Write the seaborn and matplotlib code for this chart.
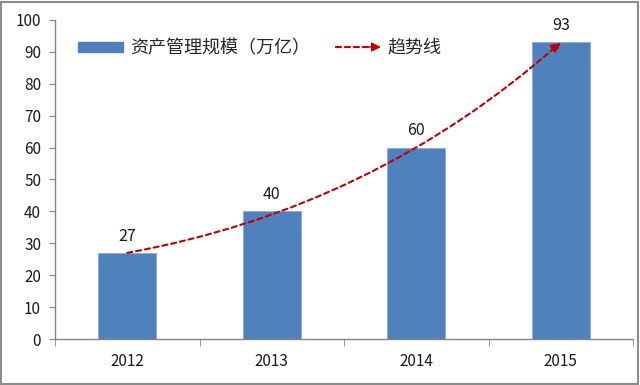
import matplotlib
matplotlib.use("Agg")
import matplotlib.pyplot as plt
import seaborn as sns
import pandas as pd
from matplotlib.patches import Patch, FancyArrowPatch, Rectangle
from matplotlib.legend_handler import HandlerBase
from matplotlib.lines import Line2D

years = ["2012", "2013", "2014", "2015"]
values = [27, 40, 60, 93]
bar_label = "资产管理规模（万亿）"
trend_label = "趋势线"
yticks = list(range(0, 101, 10))

BLUE = "#4F81BD"
RED = "#C00000"
GRAY = "#868686"

sns.set_style("white")
plt.rcParams["font.family"] = ["Noto Sans CJK SC", "DejaVu Sans"]

fig = plt.figure(figsize=(6.4, 3.85), dpi=100)
ax = fig.add_axes([55/640, 1-339/385, (633-55)/640, (339-20)/385])

df = pd.DataFrame({"year": years, "value": values})
sns.barplot(data=df, x="year", y="value", color=BLUE, width=0.4, ax=ax,
            edgecolor="#8EAADB", linewidth=0.6, saturation=1)

ax.set_xlim(-0.5, len(years) - 0.5)
ax.set_ylim(0, 100)
ax.set_yticks(yticks)
ax.set_xlabel("")
ax.set_ylabel("")

for s in ["top", "right"]:
    ax.spines[s].set_visible(False)
for s in ["left", "bottom"]:
    ax.spines[s].set_color(GRAY)
    ax.spines[s].set_linewidth(1.0)

ax.tick_params(axis="y", which="major", length=4, color=GRAY, direction="out",
               labelsize=11, pad=6, labelcolor="#1a1a1a", left=True)
ax.tick_params(axis="x", which="major", length=0, labelsize=11, pad=10,
               labelcolor="#1a1a1a")
ax.set_xticks([i - 0.5 for i in range(len(years) + 1)], minor=True)
ax.tick_params(axis="x", which="minor", length=5, color=GRAY, direction="out",
               bottom=True)

for i, v in enumerate(values):
    ax.annotate(str(v), (i, v), xytext=(0, 12), textcoords="offset points",
                ha="center", va="center", fontsize=11.5, color="#1a1a1a")

# trend arrow from first to last bar top
arrow = FancyArrowPatch((0, values[0]), (len(values) - 1, values[-1]),
                        connectionstyle="arc3,rad=0.14", arrowstyle="-|>",
                        mutation_scale=14, color=RED, linewidth=1.5,
                        linestyle=(0, (2.5, 1.8)), shrinkA=0, shrinkB=0, zorder=5)
ax.add_patch(arrow)


class ArrowHandler(HandlerBase):
    def create_artists(self, legend, orig_handle, xdescent, ydescent,
                       width, height, fontsize, trans):
        y = height / 2 - ydescent
        line = FancyArrowPatch((-xdescent, y), (width - xdescent - 8, y),
                               arrowstyle="-", color=RED, linewidth=1.5,
                               linestyle=(0, (2.5, 1.8)), transform=trans,
                               shrinkA=0, shrinkB=0)
        head = FancyArrowPatch((width - xdescent - 12, y), (width - xdescent, y),
                               arrowstyle="-|>", mutation_scale=14, color=RED,
                               linewidth=1.0, transform=trans,
                               shrinkA=0, shrinkB=0)
        return [line, head]


handles = [Patch(facecolor=BLUE, edgecolor=BLUE),
           Line2D([], [], color=RED)]
leg = ax.legend(handles, [bar_label, trend_label], ncol=2, frameon=False,
                loc="upper left", bbox_to_anchor=(0.012, 0.99),
                fontsize=13, handlelength=2.5, handleheight=0.5,
                columnspacing=1.45, handletextpad=0.35,
                handler_map={Line2D: ArrowHandler()})

fig.patches.append(Rectangle((0.002, 0.003), 0.995, 0.993, transform=fig.transFigure,
                             fill=False, edgecolor="#8c8c8c", linewidth=1.5))

fig.savefig("out.png", dpi=100, facecolor="white")
